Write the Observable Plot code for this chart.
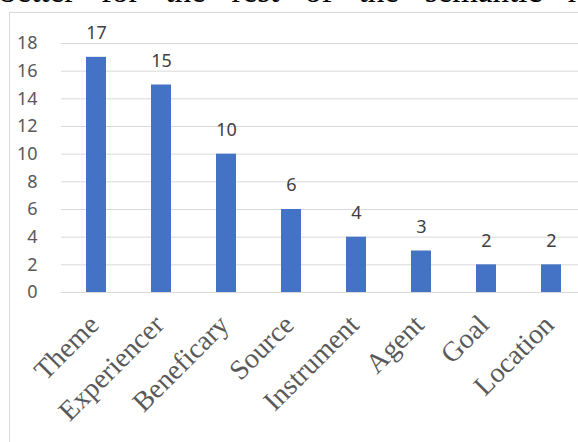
<!DOCTYPE html>
<html>
<head>
<meta charset="utf-8">
<script src="https://cdn.jsdelivr.net/npm/d3@7"></script>
<script src="https://cdn.jsdelivr.net/npm/@observablehq/plot@0.6"></script>
<style>
  html, body { margin: 0; padding: 0; background: #fff; width: 578px; height: 442px; overflow: hidden; }
  #page { position: relative; width: 578px; height: 442px; overflow: hidden; background: #fff; }
  #lead {
    position: absolute; left: 0; top: -25px; width: 632px;
    font: 33px/1 "Liberation Serif", "Times New Roman", serif; color: #000;
    text-align: justify; text-align-last: justify;
  }
  #box {
    position: absolute; left: 9px; top: 12px; width: 640px; height: 440px;
    border-left: 1px solid #d9d9d9; border-top: 1px solid #d9d9d9; background: #fff;
  }
  #box svg { display: block; }
</style>
</head>
<body>
<div id="page">
  <div id="lead">better for the rest of the semantic roles</div>
  <div id="box"></div>
</div>
<script>
// Semantic roles and how often each occurs
const roles = ["Theme", "Experiencer", "Beneficary", "Source", "Instrument", "Agent", "Goal", "Location"];
const counts = [17, 15, 10, 6, 4, 3, 2, 2];
const yTicks = [0, 2, 4, 6, 8, 10, 12, 14, 16, 18];

const rows = roles.map((role, i) => ({role, count: counts[i]}));

const chart = Plot.plot({
  width: 600,
  height: 429,
  marginLeft: 51,
  marginRight: 24,
  marginTop: 30,
  marginBottom: 150,
  style: {fontFamily: "'Noto Sans', sans-serif", fontSize: "18px", background: "transparent"},
  x: {type: "band", domain: roles, paddingInner: 0.695, paddingOuter: 0.3475, axis: null},
  y: {domain: [0, 18], axis: null},
  marks: [
    Plot.ruleY(yTicks, {stroke: "#d9d9d9", strokeWidth: 1}),
    Plot.axisY({
      ticks: yTicks, tickSize: 0, tickPadding: 24, label: null,
      fontSize: 18, fontFamily: "'Noto Sans', sans-serif", color: "#595959"
    }),
    Plot.barY(rows, {x: "role", y: "count", fill: "#4472C4"}),
    Plot.text(rows, {
      x: "role", y: "count", text: d => String(d.count),
      dy: -24, lineAnchor: "middle", fill: "#404040",
      fontSize: 18, fontFamily: "'Noto Sans', sans-serif"
    }),
    Plot.text(roles, {
      x: d => d, y: 0, text: d => d,
      rotate: -45, textAnchor: "end", lineAnchor: "bottom",
      dx: 4, dy: 34, fill: "#595959",
      fontSize: 28, fontFamily: "'Liberation Serif', serif"
    })
  ]
});

document.getElementById("box").appendChild(chart);
</script>
</body>
</html>
